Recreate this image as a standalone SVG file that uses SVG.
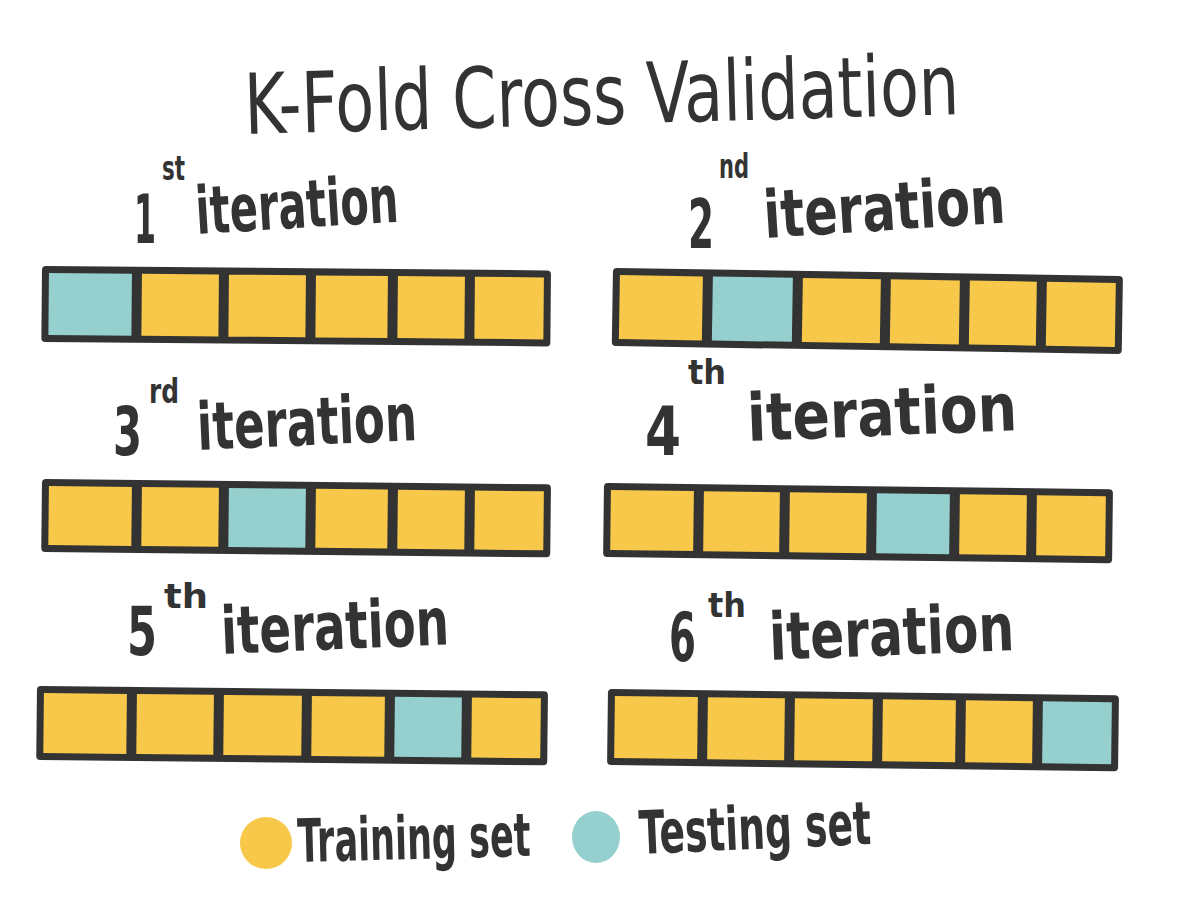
<svg xmlns="http://www.w3.org/2000/svg" width="1200" height="900" viewBox="0 0 1200 900">
<style>
.frame{fill:#333333;}
.tr{fill:#F8C84A;stroke:#333333;stroke-width:2;}
.te{fill:#95D0CF;stroke:#333333;stroke-width:2;}
.dot-tr{fill:#F8C84A;}
.dot-te{fill:#95D0CF;}
.title{font-family:"DejaVu Sans Condensed","DejaVu Sans",sans-serif;font-size:84px;fill:#333333;}
.lbl{font-family:"DejaVu Sans Condensed","DejaVu Sans",sans-serif;font-weight:bold;font-size:66px;fill:#333333;}
.num{font-family:"DejaVu Sans Condensed","DejaVu Sans",sans-serif;font-weight:bold;font-size:68px;fill:#333333;}
.sup{font-family:"DejaVu Sans Condensed","DejaVu Sans",sans-serif;font-weight:bold;font-size:34px;fill:#333333;}
.leg{font-family:"DejaVu Sans Condensed","DejaVu Sans",sans-serif;font-weight:bold;font-size:60px;fill:#333333;}
</style>
<rect width="1200" height="900" fill="#ffffff"/>
<g id="title">
<text class="title" x="245" y="134" textLength="715" lengthAdjust="spacingAndGlyphs" transform="rotate(-1.6 245 134)">K-Fold Cross Validation</text>
</g>
<g id="iter1">
<text class="num" x="134" y="243" textLength="22" lengthAdjust="spacingAndGlyphs">1</text>
<text class="sup" x="162" y="180" textLength="23" lengthAdjust="spacingAndGlyphs">st</text>
<text class="lbl" x="197" y="234" textLength="203" lengthAdjust="spacingAndGlyphs" transform="rotate(-3.5 197 234)">iteration</text>
<g id="bar1" transform="rotate(0.5 42 266)">
<rect class="frame" x="42" y="266" width="509" height="76" rx="4"/>
<rect class="te" x="48" y="272" width="85" height="64"/>
<rect class="tr" x="141" y="272" width="79" height="64"/>
<rect class="tr" x="228" y="272" width="79" height="64"/>
<rect class="tr" x="315" y="272" width="74" height="64"/>
<rect class="tr" x="397" y="272" width="69" height="64"/>
<rect class="tr" x="474" y="272" width="71" height="64"/>
</g>
</g>
<g id="iter2">
<text class="num" x="688" y="248" textLength="26" lengthAdjust="spacingAndGlyphs">2</text>
<text class="sup" x="719" y="178" textLength="30" lengthAdjust="spacingAndGlyphs">nd</text>
<text class="lbl" x="765" y="238" textLength="242" lengthAdjust="spacingAndGlyphs" transform="rotate(-3.7 765 238)">iteration</text>
<g id="bar2" transform="rotate(0.9 613 268)">
<rect class="frame" x="613" y="268" width="510" height="78" rx="4"/>
<rect class="tr" x="619" y="274" width="85" height="66"/>
<rect class="te" x="712" y="274" width="82" height="66"/>
<rect class="tr" x="802" y="274" width="80" height="66"/>
<rect class="tr" x="890" y="274" width="71" height="66"/>
<rect class="tr" x="969" y="274" width="69" height="66"/>
<rect class="tr" x="1046" y="274" width="71" height="66"/>
</g>
</g>
<g id="iter3">
<text class="num" x="113" y="455" textLength="29" lengthAdjust="spacingAndGlyphs">3</text>
<text class="sup" x="149" y="403" textLength="30" lengthAdjust="spacingAndGlyphs">rd</text>
<text class="lbl" x="198" y="450" textLength="220" lengthAdjust="spacingAndGlyphs" transform="rotate(-2.6 198 450)">iteration</text>
<g id="bar3" transform="rotate(0.6 42 479)">
<rect class="frame" x="42" y="479" width="509" height="73" rx="4"/>
<rect class="tr" x="48" y="485" width="85" height="61"/>
<rect class="tr" x="141" y="485" width="79" height="61"/>
<rect class="te" x="228" y="485" width="79" height="61"/>
<rect class="tr" x="315" y="485" width="74" height="61"/>
<rect class="tr" x="397" y="485" width="69" height="61"/>
<rect class="tr" x="474" y="485" width="71" height="61"/>
</g>
</g>
<g id="iter4">
<text class="num" x="645" y="455" textLength="36" lengthAdjust="spacingAndGlyphs">4</text>
<text class="sup" x="688" y="384" textLength="38" lengthAdjust="spacingAndGlyphs">th</text>
<text class="lbl" x="748" y="441" textLength="270" lengthAdjust="spacingAndGlyphs" transform="rotate(-2.3 748 441)">iteration</text>
<g id="bar4" transform="rotate(0.7 604 483)">
<rect class="frame" x="604" y="483" width="509" height="74" rx="4"/>
<rect class="tr" x="610" y="489" width="85" height="62"/>
<rect class="tr" x="703" y="489" width="78" height="62"/>
<rect class="tr" x="789" y="489" width="79" height="62"/>
<rect class="te" x="876" y="489" width="75" height="62"/>
<rect class="tr" x="959" y="489" width="69" height="62"/>
<rect class="tr" x="1036" y="489" width="71" height="62"/>
</g>
</g>
<g id="iter5">
<text class="num" x="127" y="655" textLength="30" lengthAdjust="spacingAndGlyphs">5</text>
<text class="sup" x="164" y="608" textLength="44" lengthAdjust="spacingAndGlyphs">th</text>
<text class="lbl" x="222" y="654" textLength="228" lengthAdjust="spacingAndGlyphs" transform="rotate(-2.4 222 654)">iteration</text>
<g id="bar5" transform="rotate(0.6 37 686)">
<rect class="frame" x="37" y="686" width="511" height="74" rx="4"/>
<rect class="tr" x="43" y="692" width="85" height="62"/>
<rect class="tr" x="136" y="692" width="79" height="62"/>
<rect class="tr" x="223" y="692" width="80" height="62"/>
<rect class="tr" x="311" y="692" width="75" height="62"/>
<rect class="te" x="394" y="692" width="69" height="62"/>
<rect class="tr" x="471" y="692" width="71" height="62"/>
</g>
</g>
<g id="iter6">
<text class="num" x="669" y="661" textLength="27" lengthAdjust="spacingAndGlyphs">6</text>
<text class="sup" x="708" y="617" textLength="38" lengthAdjust="spacingAndGlyphs">th</text>
<text class="lbl" x="770" y="660" textLength="245" lengthAdjust="spacingAndGlyphs" transform="rotate(-2.3 770 660)">iteration</text>
<g id="bar6" transform="rotate(0.7 608 689)">
<rect class="frame" x="608" y="689" width="511" height="76" rx="4"/>
<rect class="tr" x="614" y="695" width="85" height="64"/>
<rect class="tr" x="707" y="695" width="79" height="64"/>
<rect class="tr" x="794" y="695" width="80" height="64"/>
<rect class="tr" x="882" y="695" width="75" height="64"/>
<rect class="tr" x="965" y="695" width="69" height="64"/>
<rect class="te" x="1042" y="695" width="71" height="64"/>
</g>
</g>
<g id="legend-training">
<ellipse class="dot-tr" cx="266" cy="843" rx="26" ry="26"/>
<text class="leg" x="298" y="862" textLength="233" lengthAdjust="spacingAndGlyphs" transform="rotate(-1.5 298 862)">Training set</text>
</g>
<g id="legend-testing">
<ellipse class="dot-te" cx="596" cy="837" rx="24" ry="26"/>
<text class="leg" x="640" y="854" textLength="232" lengthAdjust="spacingAndGlyphs" transform="rotate(-2.5 640 854)">Testing set</text>
</g>
</svg>
